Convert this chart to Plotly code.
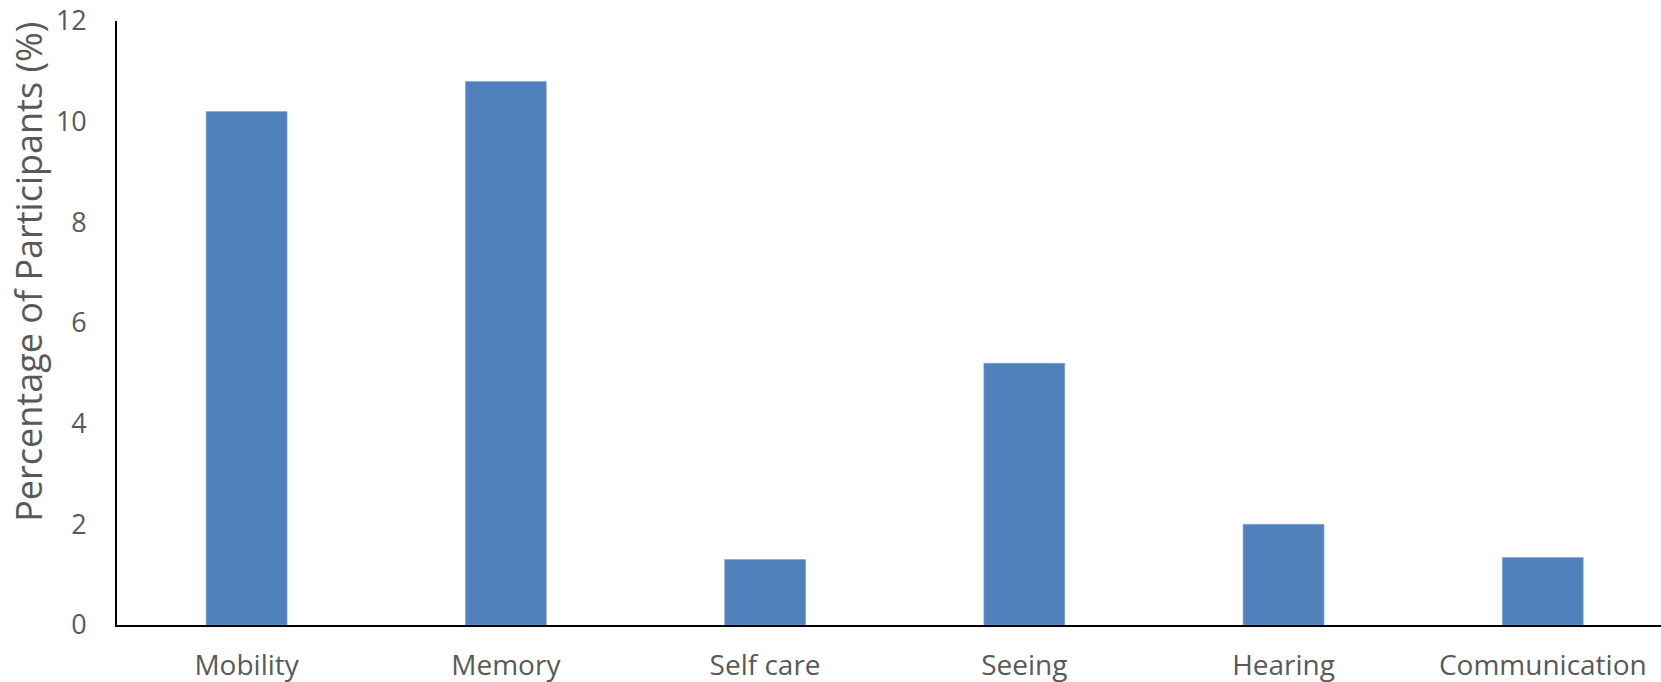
import plotly.graph_objects as go

categories = ["Mobility", "Memory", "Self care", "Seeing", "Hearing", "Communication"]
percentages = [10.2, 10.8, 1.3, 5.2, 2.0, 1.34]
y_ticks = [0, 2, 4, 6, 8, 10, 12]

text_color = "#595959"
bar_color = "#4F81BD"
font_family = "Open Sans, Liberation Sans, sans-serif"

fig = go.Figure(
    go.Bar(
        x=categories,
        y=percentages,
        width=0.312,
        marker=dict(color=bar_color, line=dict(color="#7FA3D0", width=0.6)),
    )
)

fig.update_layout(
    width=1661,
    height=682,
    margin=dict(l=116.5, r=0, t=21, b=57),
    paper_bgcolor="white",
    plot_bgcolor="white",
    showlegend=False,
    font=dict(family=font_family, color=text_color, size=26),
)

fig.update_xaxes(
    range=[-0.5, 5.456],
    automargin=False,
    showline=True,
    linecolor="black",
    linewidth=1.6,
    showgrid=False,
    ticks="",
    ticklabelstandoff=15,
    tickfont=dict(size=28, color=text_color),
)

fig.update_yaxes(
    range=[0, 12],
    tickvals=y_ticks,
    automargin=False,
    showline=True,
    linecolor="black",
    linewidth=1.6,
    showgrid=False,
    zeroline=False,
    ticks="",
    ticklabelstandoff=23,
    tickfont=dict(size=27, color=text_color),
)

fig.add_annotation(
    text="Percentage of Participants (%)",
    xref="paper",
    yref="paper",
    x=-0.0569,
    y=0.585,
    xanchor="center",
    yanchor="middle",
    textangle=-90,
    showarrow=False,
    font=dict(size=36, color=text_color, family=font_family),
)

fig.write_html("out.html")
